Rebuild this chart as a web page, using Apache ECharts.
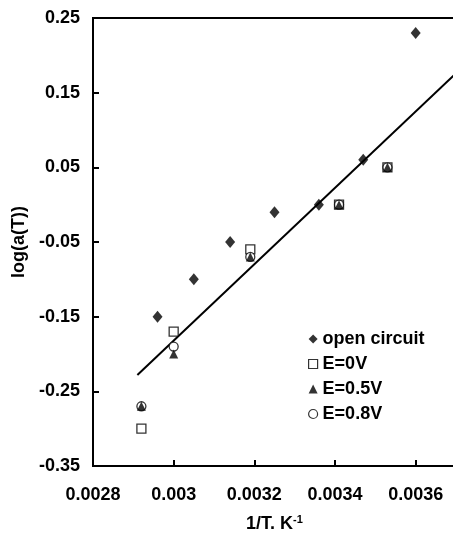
<!DOCTYPE html>
<html>
<head>
<meta charset="utf-8">
<script src="https://cdn.jsdelivr.net/npm/echarts@6/dist/echarts.min.js"></script>
<style>
  html, body { margin: 0; padding: 0; background: #fff; }
  #chart { width: 453px; height: 535px; }
</style>
</head>
<body>
<div id="chart"></div>
<script>
// Shift factor log(a(T)) versus inverse temperature
const openCircuitX = [0.00296, 0.00305, 0.00314, 0.00325, 0.00336, 0.00347, 0.00360];
const openCircuitY = [-0.15, -0.10, -0.05, -0.01, 0.00, 0.06, 0.23];

const e0X = [0.00292, 0.00300, 0.00319, 0.00341, 0.00353];
const e0Y = [-0.30, -0.17, -0.06, 0.00, 0.05];

const e05X = [0.00292, 0.00300, 0.00319, 0.00341, 0.00353];
const e05Y = [-0.27, -0.20, -0.07, 0.00, 0.05];

const e08X = [0.00292, 0.00300, 0.00319, 0.00341, 0.00353];
const e08Y = [-0.27, -0.19, -0.07, 0.00, 0.05];

// Linear fit end points
const fitX = [0.00291, 0.00370];
const fitY = [-0.228, 0.176];

const xTicks = [0.0028, 0.0030, 0.0032, 0.0034, 0.0036];
const yTicks = [-0.35, -0.25, -0.15, -0.05, 0.05, 0.15, 0.25];

const pairs = (xs, ys) => xs.map((x, i) => [x, ys[i]]);

const font = 'Liberation Sans, Arial, sans-serif';
const chart = echarts.init(document.getElementById('chart'), null, { renderer: 'canvas' });

chart.setOption({
  animation: false,
  backgroundColor: '#fff',
  grid: {
    left: 93, top: 18, right: -3, bottom: 69,
    containLabel: false, outerBoundsMode: 'none',
    show: true, borderColor: '#000', borderWidth: 2, backgroundColor: 'transparent'
  },
  legend: {
    orient: 'vertical',
    left: 303, top: 325,
    itemWidth: 9, itemHeight: 9, itemGap: 7,
    textStyle: { fontFamily: font, fontWeight: 'bold', fontSize: 18, color: '#000' },
    data: [
      { name: 'open circuit', icon: 'diamond', itemStyle: { color: '#000' } },
      { name: 'E=0V', icon: 'rect', itemStyle: { color: '#fff', borderColor: '#000', borderWidth: 1.2 } },
      { name: 'E=0.5V', icon: 'triangle', itemStyle: { color: '#000' } },
      { name: 'E=0.8V', icon: 'circle', itemStyle: { color: '#fff', borderColor: '#000', borderWidth: 1.2 } }
    ]
  },
  xAxis: {
    type: 'value',
    min: 0.0028, max: 0.0037,
    name: '1/T. K{sup|-1}',
    nameLocation: 'middle', nameGap: 48,
    nameTextStyle: {
      fontFamily: font, fontWeight: 'bold', fontSize: 18, color: '#000',
      rich: { sup: { fontFamily: font, fontWeight: 'bold', fontSize: 11, color: '#000', verticalAlign: 'top', padding: [0, 0, 10, 0] } }
    },
    axisLine: { show: true, onZero: false, lineStyle: { color: '#000', width: 2 } },
    axisTick: { show: true, inside: true, length: 6, lineStyle: { color: '#000', width: 2 }, customValues: xTicks },
    axisLabel: {
      customValues: xTicks, margin: 20,
      fontFamily: font, fontWeight: 'bold', fontSize: 18, color: '#000',
      formatter: v => String(Number(v.toFixed(4)))
    },
    splitLine: { show: false }
  },
  yAxis: {
    type: 'value',
    min: -0.35, max: 0.25,
    name: 'log(a(T))',
    nameLocation: 'middle', nameGap: 62, nameRotate: 90,
    nameTextStyle: { fontFamily: font, fontWeight: 'bold', fontSize: 18, color: '#000' },
    axisLine: { show: true, onZero: false, lineStyle: { color: '#000', width: 2 } },
    axisTick: { show: true, inside: true, length: 6, lineStyle: { color: '#000', width: 2 }, customValues: yTicks },
    axisLabel: {
      customValues: yTicks, margin: 13,
      fontFamily: font, fontWeight: 'bold', fontSize: 18, color: '#000',
      formatter: v => v.toFixed(2)
    },
    splitLine: { show: false }
  },
  series: [
    {
      name: 'fit', type: 'line', data: pairs(fitX, fitY),
      showSymbol: false, symbol: 'none', z: 1,
      lineStyle: { color: '#000', width: 2 }
    },
    {
      name: 'E=0V', type: 'scatter', data: pairs(e0X, e0Y), z: 2,
      symbol: 'rect', symbolSize: 9,
      itemStyle: { color: '#fff', borderColor: '#000', borderWidth: 1.3 }
    },
    {
      name: 'E=0.8V', type: 'scatter', data: pairs(e08X, e08Y), z: 3,
      symbol: 'circle', symbolSize: 9,
      itemStyle: { color: '#fff', borderColor: '#000', borderWidth: 1.3 }
    },
    {
      name: 'E=0.5V', type: 'scatter', data: pairs(e05X, e05Y), z: 4,
      symbol: 'triangle', symbolSize: 9,
      itemStyle: { color: '#000' }
    },
    {
      name: 'open circuit', type: 'scatter', data: pairs(openCircuitX, openCircuitY), z: 5,
      symbol: 'diamond', symbolSize: [10, 12],
      itemStyle: { color: '#000' }
    }
  ]
});
</script>
</body>
</html>
